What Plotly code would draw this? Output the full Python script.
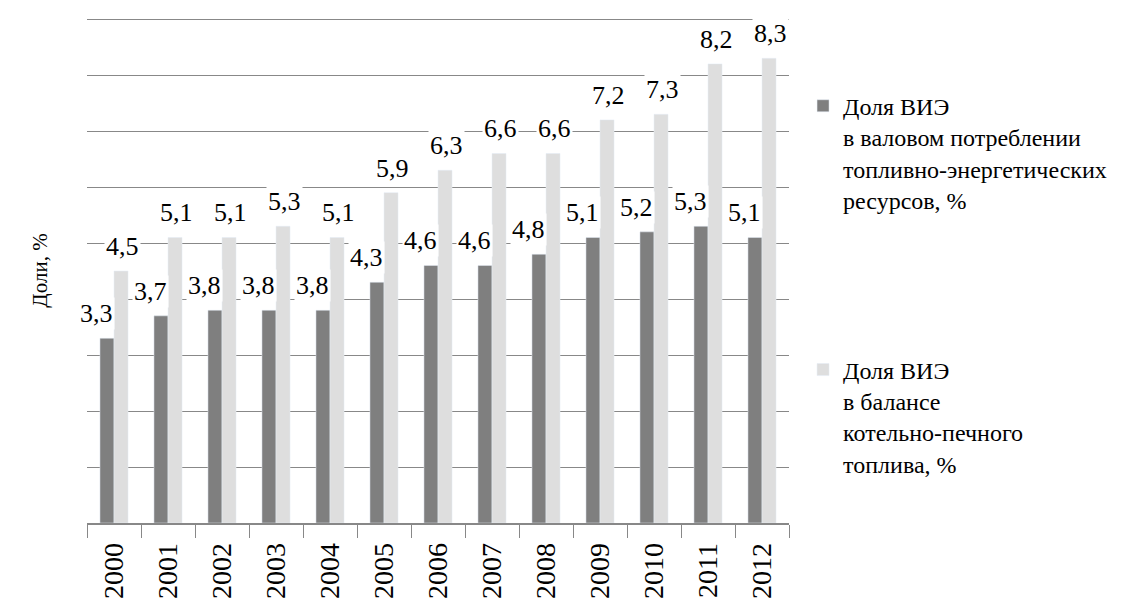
import plotly.graph_objects as go

years = ["2000", "2001", "2002", "2003", "2004", "2005", "2006",
         "2007", "2008", "2009", "2010", "2011", "2012"]
share_fer = [3.3, 3.7, 3.8, 3.8, 3.8, 4.3, 4.6, 4.6, 4.8, 5.1, 5.2, 5.3, 5.1]
share_fuel = [4.5, 5.1, 5.1, 5.3, 5.1, 5.9, 6.3, 6.6, 6.6, 7.2, 7.3, 8.2, 8.3]

name_fer = "Доля ВИЭ<br>в валовом потреблении<br>топливно-энергетических<br>ресурсов, %"
name_fuel = "Доля ВИЭ<br>в балансе<br>котельно-печного<br>топлива, %"

FONT = "Times New Roman, Liberation Serif, DejaVu Serif, serif"
DARK = "#7f7f7f"
LIGHT = "#dedede"

fig = go.Figure()
fig.add_trace(go.Bar(x=years, y=share_fer, name=name_fer, marker_color=DARK,
                     legendgroup="a"))
fig.add_trace(go.Bar(x=years, y=share_fuel, name=name_fuel, marker_color=LIGHT,
                     legendgroup="b"))


def fmt(v):
    return f"{v:.1f}".replace(".", ",")


# value labels on white boxes above each bar (x given as category index)
annotations = []
for i, v in enumerate(share_fer):
    annotations.append(dict(x=i, y=v, text=fmt(v), xref="x", yref="y",
                            xshift=-18, yshift=8, yanchor="bottom",
                            showarrow=False, bgcolor="white", borderpad=1,
                            font=dict(family=FONT, size=26, color="black")))
for i, v in enumerate(share_fuel):
    annotations.append(dict(x=i, y=v, text=fmt(v), xref="x", yref="y",
                            xshift=8, yshift=8, yanchor="bottom",
                            showarrow=False, bgcolor="white", borderpad=1,
                            font=dict(family=FONT, size=26, color="black")))

fig.update_layout(
    width=1135, height=614,
    margin=dict(l=87, r=346, t=18, b=91),
    paper_bgcolor="white", plot_bgcolor="white",
    barmode="group", bargap=0.48, bargroupgap=0,
    font=dict(family=FONT, size=23, color="black"),
    annotations=annotations,
    showlegend=True,
    legend=dict(x=1.02, xanchor="left", y=0.87, yanchor="top",
                valign="top", tracegroupgap=136,
                font=dict(family=FONT, size=24, color="black")),
)
fig.update_yaxes(range=[0, 9.02], dtick=1, showticklabels=False,
                 automargin=False,
                 showgrid=True, gridcolor="#888888", gridwidth=1.3,
                 zeroline=False, showline=False, ticks="",
                 title=dict(text="Доли, %", standoff=32,
                            font=dict(family=FONT, size=21)))
fig.update_xaxes(type="category", range=[-0.5, 12.5], showgrid=False,
                 automargin=False,
                 showline=True, linecolor="#888888", linewidth=1.5,
                 ticks="outside", tickson="boundaries", ticklen=13,
                 tickcolor="#888888", tickwidth=1.3, tickangle=-90,
                 ticklabelstandoff=7, tickfont=dict(family=FONT, size=28))

fig.write_html("out.html")
